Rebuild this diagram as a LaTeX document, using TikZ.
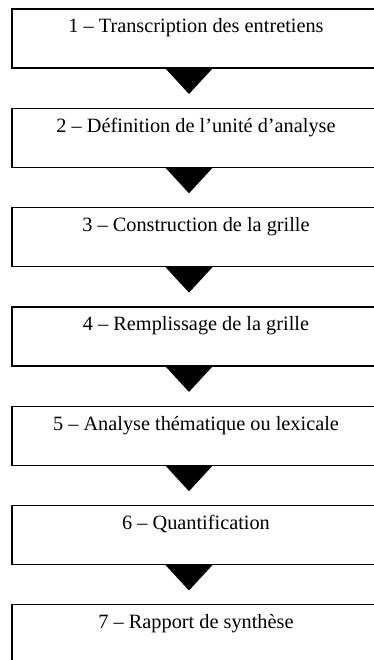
\documentclass[tikz,border=0pt]{standalone}
\usepackage{fontspec}
\setmainfont{Liberation Serif}
\usetikzlibrary{positioning}

\begin{document}
\begin{tikzpicture}[x=1pt,y=-1pt,
	etape/.style={rectangle,draw,line width=1.2pt,minimum width=368pt,inner sep=0pt,outer sep=0pt,
		text height=24pt,text depth=35pt,font=\fontsize{20.3}{24}\selectfont},
	fleche/.style={fill=black}]
\clip (0,0) rectangle (374,660);
\node[etape,anchor=north](e1) at (196,9){1 – Transcription des entretiens};
\node[etape,below=40.3pt of e1](e2){2 – Définition de l’unité d’analyse};
\node[etape,below=40.3pt of e2](e3){3 – Construction de la grille};
\node[etape,below=40.3pt of e3](e4){4 – Remplissage de la grille};
\node[etape,below=40.3pt of e4](e5){5 – Analyse thématique ou lexicale};
\node[etape,below=40.3pt of e5](e6){6 – Quantification};
\node[etape,below=40.3pt of e6](e7){7 – Rapport de synthèse};
\fill[fleche] ([xshift=-31pt]e1.south) -- ([xshift=17pt]e1.south) -- ([xshift=-7pt,yshift=-26pt]e1.south) -- cycle;
\fill[fleche] ([xshift=-31pt]e2.south) -- ([xshift=17pt]e2.south) -- ([xshift=-7pt,yshift=-26pt]e2.south) -- cycle;
\fill[fleche] ([xshift=-31pt]e3.south) -- ([xshift=17pt]e3.south) -- ([xshift=-7pt,yshift=-26pt]e3.south) -- cycle;
\fill[fleche] ([xshift=-31pt]e4.south) -- ([xshift=17pt]e4.south) -- ([xshift=-7pt,yshift=-26pt]e4.south) -- cycle;
\fill[fleche] ([xshift=-31pt]e5.south) -- ([xshift=17pt]e5.south) -- ([xshift=-7pt,yshift=-26pt]e5.south) -- cycle;
\fill[fleche] ([xshift=-31pt]e6.south) -- ([xshift=17pt]e6.south) -- ([xshift=-7pt,yshift=-26pt]e6.south) -- cycle;
\end{tikzpicture}
\end{document}
